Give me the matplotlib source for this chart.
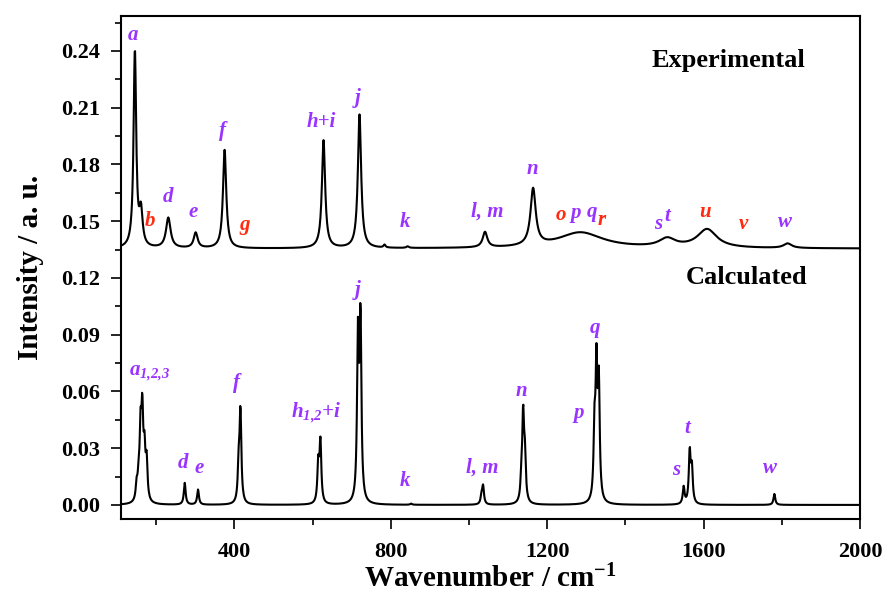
import numpy as np
import matplotlib
matplotlib.use("Agg")
import matplotlib.pyplot as plt
from matplotlib.ticker import MultipleLocator

plt.rcParams['font.family'] = ['Liberation Serif', 'DejaVu Serif']
plt.rcParams['font.weight'] = 'bold'
plt.rcParams['mathtext.default'] = 'regular'

# experimental spectrum: baseline + peaks (centre cm-1, height, FWHM)
exp_base = 0.1355
exp_pos = [145.5, 161, 231, 301, 375, 628, 720, 784, 843, 1041, 1164, 1285, 1507, 1609, 1815]
exp_amp = [0.104, 0.018, 0.016, 0.0081, 0.052, 0.057, 0.0706, 0.0015, 0.0008, 0.0081, 0.030, 0.0084, 0.0045, 0.0098, 0.0024]
exp_fwhm = [8, 10, 14, 12, 10, 10, 10, 6, 8, 14, 16, 140, 50, 60, 25]

# calculated spectrum peaks
calc_pos = [150, 155, 160, 164.5, 170, 175.5, 273, 307, 411, 415.5, 614.5, 620, 716, 722.5, 852,
            1032, 1036, 1134, 1138.5, 1143, 1321, 1326, 1332, 1549, 1564.5, 1570, 1781]
calc_amp = [0.008, 0.010, 0.035, 0.043, 0.024, 0.020, 0.0115, 0.008, 0.018, 0.048, 0.020, 0.032, 0.085, 0.095, 0.0006,
            0.004, 0.0095, 0.010, 0.045, 0.022, 0.035, 0.067, 0.060, 0.009, 0.027, 0.018, 0.0058]
calc_fwhm = 5.5

# peak labels (text, wavenumber, intensity, colour)
purple = '#9933ff'
red = '#ff2a10'
exp_labels = [('a', 140, 0.2484, purple), ('b', 184, 0.150, red), ('d', 230, 0.1628, purple),
              ('e', 294, 0.1549, purple), ('f', 370, 0.1977, purple), ('g', 426, 0.148, red),
              ('h+i', 623, 0.2024, purple), ('j', 715, 0.2151, purple), ('k', 835, 0.1496, purple),
              ('l, m', 1046, 0.1549, purple), ('n', 1161, 0.1776, purple), ('o', 1235, 0.1533, red),
              ('p', 1273, 0.1543, purple), ('q', 1314, 0.1549, purple), ('r', 1340, 0.1506, red),
              ('s', 1483, 0.1485, purple), ('t', 1508, 0.1527, purple), ('u', 1603, 0.1549, red),
              ('v', 1702, 0.1485, red), ('w', 1809, 0.1496, purple)]
calc_labels = [(r'$a_{1{,}2{,}3}$', 183, 0.0695, purple), ('d', 268, 0.0222, purple), ('e', 309, 0.0196, purple),
               ('f', 406, 0.0645, purple), (r'$h_{1{,}2}$+i', 610, 0.0486, purple), ('j', 715, 0.1136, purple),
               ('k', 835, 0.0127, purple), ('l, m', 1034, 0.0196, purple), ('n', 1133, 0.0603, purple),
               ('p', 1281, 0.0486, purple), ('q', 1322, 0.0935, purple), ('s', 1529, 0.0185, purple),
               ('t', 1559, 0.0407, purple), ('w', 1769, 0.0196, purple)]


def lorentz_sum(x, pos, amp, fwhm):
    fwhm = np.broadcast_to(fwhm, np.shape(pos))
    y = np.zeros_like(x)
    for c, h, w in zip(pos, amp, fwhm):
        g = (w / 2.0) ** 2
        y += h * g / ((x - c) ** 2 + g)
    return y


wn = np.arange(110, 2000.5, 1.0)
exp_y = exp_base + lorentz_sum(wn, exp_pos, exp_amp, exp_fwhm)
calc_y = lorentz_sum(wn, calc_pos, calc_amp, calc_fwhm)

fig = plt.figure(figsize=(8.91, 5.92), dpi=100)
ax = fig.add_axes([0.1358, 0.1228, 0.8294, 0.8502])
ax.plot(wn, exp_y, color='black', lw=1.5)
ax.plot(wn, calc_y, color='black', lw=1.5)

ax.set_xlim(110, 2000)
ax.set_ylim(-0.0076, 0.2585)
ax.xaxis.set_minor_locator(MultipleLocator(200))
ax.yaxis.set_minor_locator(MultipleLocator(0.015))
ax.set_xticks([400, 800, 1200, 1600, 2000])
ax.set_yticks(np.arange(0, 0.25, 0.03))
ax.set_yticklabels(['%.2f' % v for v in np.arange(0, 0.25, 0.03)])
ax.tick_params(which='both', direction='out', top=False, right=False, width=1.2, labelsize=16)
ax.tick_params(axis='y', which='major', length=7, pad=8)
ax.tick_params(axis='x', which='major', length=7, pad=9)
ax.tick_params(which='minor', length=4)
for s in ax.spines.values():
    s.set_linewidth(1.5)

ax.set_xlabel('Wavenumber / cm$^{-1}$', fontsize=21, fontweight='bold', labelpad=2)
ax.set_ylabel('Intensity / a. u.', fontsize=21, fontweight='bold', labelpad=12)

for txt, x, y, c in exp_labels + calc_labels:
    ax.text(x, y, txt, color=c, fontsize=15, style='italic', fontweight='bold',
            ha='center', va='center')

ax.text(1664, 0.235, 'Experimental', fontsize=19, fontweight='bold', ha='center', va='center')
ax.text(1710, 0.120, 'Calculated', fontsize=19, fontweight='bold', ha='center', va='center')

fig.savefig('out.png', dpi=100)
